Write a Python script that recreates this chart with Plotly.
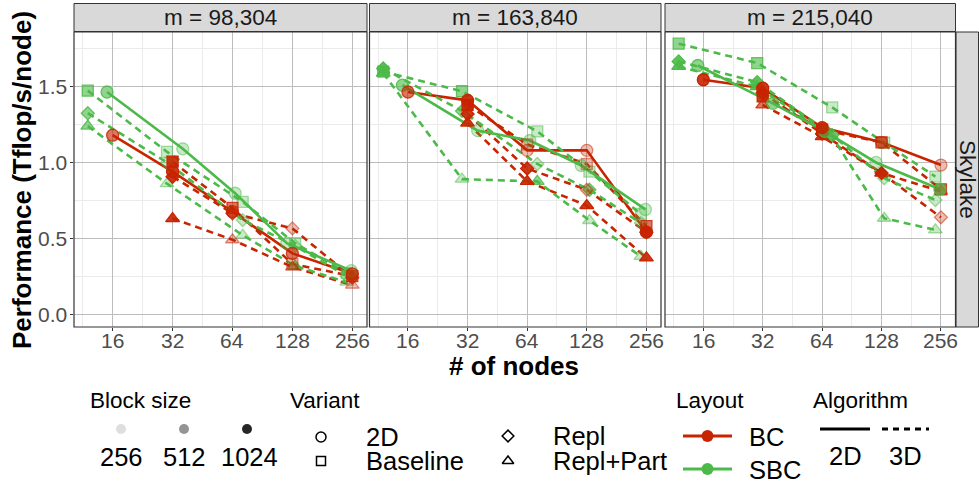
import math
import plotly.graph_objects as go

W, H = 979, 487

# ---------------- data ----------------
FACETS = ["m = 98,304", "m = 163,840", "m = 215,040"]
ROW_STRIP = "Skylake"
NODE_TICKS = [16, 32, 64, 128, 256]
NODE_TICK_LABELS = ["16", "32", "64", "128", "256"]
Y_TICKS = [0.0, 0.5, 1.0, 1.5]
Y_TICK_LABELS = ["0.0", "0.5", "1.0", "1.5"]

VARIANTS = ["2D", "Baseline", "Repl", "Repl+Part"]
LAYOUTS = ["BC", "SBC"]
BLOCK_SIZES = [256, 512, 1024]
BLOCK_LABELS = ["256", "512", "1024"]
ALGORITHMS = ["2D", "3D"]

# actual node counts used by each layout / algorithm
NODES_BC = [16, 32, 64, 128, 256]
NODES_SBC_2D = [15, 36, 66, 120, 253]
NODES_SBC_3D = [12, 30, 72, 132, 240]

# ---- m = 98,304 ----
P1_BC_2D = [1.18, 0.94, 0.675, 0.40, 0.265]
P1_BC_2D_BS = [512, 1024, 512, 512, 512]
P1_BC_BASE = [None, 1.005, 0.70, 0.33, 0.25]
P1_BC_BASE_BS = [None, 1024, 512, 256, 512]
P1_BC_REPL = [None, 0.906, 0.665, 0.565, 0.24]
P1_BC_REPL_BS = [None, 1024, 512, 256, 512]
P1_BC_RP = [None, 0.63, 0.49, 0.31, 0.19]
P1_BC_RP_BS = [None, 1024, 256, 256, 256]
P1_SBC_2D = [1.465, 1.09, 0.797, 0.467, 0.286]
P1_SBC_2D_BS = [512, 256, 256, 256, 256]
P1_SBC_BASE = [1.474, 1.07, 0.74, 0.467, 0.27]
P1_SBC_BASE_BS = [512, 256, 256, 256, 256]
P1_SBC_REPL = [1.325, 1.0, 0.62, 0.45, 0.25]
P1_SBC_REPL_BS = [512, 256, 256, 256, 256]
P1_SBC_RP = [1.24, 0.86, 0.52, 0.317, 0.21]
P1_SBC_RP_BS = [512, 256, 256, 512, 256]

# ---- m = 163,840 ----
P2_BC_2D = [1.465, 1.41, 1.08, 1.08, 0.54]
P2_BC_2D_BS = [512, 1024, 256, 256, 1024]
P2_BC_BASE = [None, 1.38, 1.12, 0.99, 0.58]
P2_BC_BASE_BS = [None, 1024, 256, 256, 512]
P2_BC_REPL = [None, 1.32, 0.96, 0.82, 0.54]
P2_BC_REPL_BS = [None, 1024, 1024, 256, 1024]
P2_BC_RP = [None, 1.26, 0.875, 0.716, 0.37]
P2_BC_RP_BS = [None, 1024, 1024, 1024, 1024]
P2_SBC_2D = [1.51, 1.21, 1.145, 0.98, 0.69]
P2_SBC_2D_BS = [512, 256, 256, 256, 256]
P2_SBC_BASE = [1.60, 1.47, 1.205, 0.94, 0.66]
P2_SBC_BASE_BS = [512, 512, 256, 256, 256]
P2_SBC_REPL = [1.62, 1.34, 0.99, 0.82, 0.60]
P2_SBC_REPL_BS = [1024, 512, 256, 512, 256]
P2_SBC_RP = [1.59, 0.89, 0.875, 0.617, 0.38]
P2_SBC_RP_BS = [1024, 256, 512, 256, 256]

# ---- m = 215,040 ----
P3_BC_2D = [1.546, 1.49, 1.23, 1.133, 0.983]
P3_BC_2D_BS = [1024, 1024, 1024, 256, 256]
P3_BC_BASE = [None, 1.436, 1.216, 1.133, 0.823]
P3_BC_BASE_BS = [None, 1024, 1024, 512, 512]
P3_BC_REPL = [None, 1.46, 1.19, 0.93, 0.638]
P3_BC_REPL_BS = [None, 1024, 1024, 1024, 256]
P3_BC_RP = [None, 1.38, 1.17, 0.93, 0.81]
P3_BC_RP_BS = [None, 512, 1024, 1024, 256]
P3_SBC_2D = [1.64, 1.39, 1.205, 1.0, 0.823]
P3_SBC_2D_BS = [512, 512, 512, 256, 512]
P3_SBC_BASE = [1.784, 1.656, 1.363, 1.13, 0.907]
P3_SBC_BASE_BS = [512, 512, 256, 256, 256]
P3_SBC_REPL = [1.667, 1.53, 1.18, 0.896, 0.752]
P3_SBC_REPL_BS = [1024, 1024, 512, 256, 256]
P3_SBC_RP = [1.634, 1.50, 1.17, 0.632, 0.555]
P3_SBC_RP_BS = [1024, 1024, 512, 256, 256]

PANELS = [
    {
        ("BC", "2D"): (P1_BC_2D, P1_BC_2D_BS), ("BC", "Baseline"): (P1_BC_BASE, P1_BC_BASE_BS),
        ("BC", "Repl"): (P1_BC_REPL, P1_BC_REPL_BS), ("BC", "Repl+Part"): (P1_BC_RP, P1_BC_RP_BS),
        ("SBC", "2D"): (P1_SBC_2D, P1_SBC_2D_BS), ("SBC", "Baseline"): (P1_SBC_BASE, P1_SBC_BASE_BS),
        ("SBC", "Repl"): (P1_SBC_REPL, P1_SBC_REPL_BS), ("SBC", "Repl+Part"): (P1_SBC_RP, P1_SBC_RP_BS),
    },
    {
        ("BC", "2D"): (P2_BC_2D, P2_BC_2D_BS), ("BC", "Baseline"): (P2_BC_BASE, P2_BC_BASE_BS),
        ("BC", "Repl"): (P2_BC_REPL, P2_BC_REPL_BS), ("BC", "Repl+Part"): (P2_BC_RP, P2_BC_RP_BS),
        ("SBC", "2D"): (P2_SBC_2D, P2_SBC_2D_BS), ("SBC", "Baseline"): (P2_SBC_BASE, P2_SBC_BASE_BS),
        ("SBC", "Repl"): (P2_SBC_REPL, P2_SBC_REPL_BS), ("SBC", "Repl+Part"): (P2_SBC_RP, P2_SBC_RP_BS),
    },
    {
        ("BC", "2D"): (P3_BC_2D, P3_BC_2D_BS), ("BC", "Baseline"): (P3_BC_BASE, P3_BC_BASE_BS),
        ("BC", "Repl"): (P3_BC_REPL, P3_BC_REPL_BS), ("BC", "Repl+Part"): (P3_BC_RP, P3_BC_RP_BS),
        ("SBC", "2D"): (P3_SBC_2D, P3_SBC_2D_BS), ("SBC", "Baseline"): (P3_SBC_BASE, P3_SBC_BASE_BS),
        ("SBC", "Repl"): (P3_SBC_REPL, P3_SBC_REPL_BS), ("SBC", "Repl+Part"): (P3_SBC_RP, P3_SBC_RP_BS),
    },
]

# ---------------- styles ----------------
FONT = "Liberation Sans, Arial, sans-serif"
LAYOUT_RGB = {"BC": (200, 36, 0), "SBC": (76, 186, 72)}
ALPHA = {256: 0.3, 512: 0.62, 1024: 0.9}
SYMBOL = {"2D": "circle", "Baseline": "square", "Repl": "diamond", "Repl+Part": "triangle-up"}
SIZE = {"2D": 12, "Baseline": 11, "Repl": 10, "Repl+Part": 12}
DASH = "7px,5px"


def rgba(rgb, a):
    return "rgba(%d,%d,%d,%.3f)" % (rgb[0], rgb[1], rgb[2], a)


def node_list(layout, variant):
    if layout == "BC":
        return NODES_BC
    return NODES_SBC_2D if variant == "2D" else NODES_SBC_3D


def px(x):
    return x / W


def py(y):
    return 1 - y / H


PANEL_X = [(74, 367), (369.5, 661), (665, 955.5)]
PANEL_Y = (32, 327)
XR = [3.355 * math.log10(2), 8.245 * math.log10(2)]
YR = [-0.0858, 1.861]

fig = go.Figure()

ax_names = [("x", "y"), ("x2", "y2"), ("x3", "y3")]

# lines first
for p, panel in enumerate(PANELS):
    xa, ya = ax_names[p]
    for layout in LAYOUTS:
        for variant in VARIANTS:
            vals, _ = panel[(layout, variant)]
            nodes = node_list(layout, variant)
            xs = [n for n, v in zip(nodes, vals) if v is not None]
            ys = [v for v in vals if v is not None]
            fig.add_trace(go.Scatter(
                x=xs, y=ys, mode="lines", xaxis=xa, yaxis=ya,
                line=dict(color=rgba(LAYOUT_RGB[layout], 1), width=2.6,
                          dash="solid" if variant == "2D" else DASH),
                hoverinfo="skip", showlegend=False))

# points on top
for p, panel in enumerate(PANELS):
    xa, ya = ax_names[p]
    for variant in ["Repl+Part", "Repl", "Baseline", "2D"]:
        for layout in ["SBC", "BC"]:
            vals, bss = panel[(layout, variant)]
            nodes = node_list(layout, variant)
            pts = [(n, v, b) for n, v, b in zip(nodes, vals, bss) if v is not None]
            rgb = LAYOUT_RGB[layout]
            fig.add_trace(go.Scatter(
                x=[q[0] for q in pts], y=[q[1] for q in pts], mode="markers",
                xaxis=xa, yaxis=ya,
                marker=dict(symbol=SYMBOL[variant], size=SIZE[variant],
                            color=[rgba(rgb, ALPHA[q[2]]) for q in pts],
                            line=dict(color=[rgba(rgb, min(1, ALPHA[q[2]] + 0.2)) for q in pts],
                                      width=1.3)),
                hoverinfo="skip", showlegend=False))

# ---------------- axes ----------------
minor_x = [16 / math.sqrt(2) * 2 ** k for k in range(5)]
layout_axes = {}
annotations = []
TICK_FONT = dict(family=FONT, size=21, color="#4d4d4d")
for p in range(3):
    sx = "" if p == 0 else str(p + 1)
    x0, x1 = PANEL_X[p]
    layout_axes["xaxis" + sx] = dict(
        type="log", range=XR, domain=[px(x0), px(x1)], anchor="y" + sx,
        tickvals=NODE_TICKS, showticklabels=False,
        showgrid=True, gridcolor="#bdbdbd", gridwidth=1,
        minor=dict(tickvals=minor_x, showgrid=True, gridcolor="#ebebeb", gridwidth=1, ticks=""),
        ticks="outside", ticklen=3, tickcolor="#333333", tickwidth=1,
        zeroline=False, showline=False, fixedrange=True)
    layout_axes["yaxis" + sx] = dict(
        range=YR, domain=[py(PANEL_Y[1]), py(PANEL_Y[0])], anchor="x" + sx,
        tickvals=Y_TICKS, showticklabels=False,
        showgrid=True, gridcolor="#bdbdbd", gridwidth=1,
        minor=dict(tickvals=[0.25, 0.75, 1.25, 1.75], showgrid=True, gridcolor="#ebebeb",
                   gridwidth=1, ticks=""),
        ticks="outside" if p == 0 else "", ticklen=3, tickcolor="#333333", tickwidth=1,
        zeroline=False, showline=False, fixedrange=True)
    # x tick labels placed through the axis' own (log) coordinates
    for tv, tl in zip(NODE_TICKS, NODE_TICK_LABELS):
        annotations.append(dict(text=tl, xref="x" + sx, yref="paper", x=math.log10(tv),
                                y=py(340.5), showarrow=False, xanchor="center", yanchor="middle",
                                font=TICK_FONT))

# y tick labels via the first panel's y axis
for tv, tl in zip(Y_TICKS, Y_TICK_LABELS):
    annotations.append(dict(text=tl, xref="paper", yref="y", x=px(69), y=tv, showarrow=False,
                            xanchor="right", yanchor="middle", font=TICK_FONT))

# overlay axis in pixel units for the legend
layout_axes["xaxis4"] = dict(domain=[0, 1], range=[0, W], visible=False, anchor="y4", fixedrange=True)
layout_axes["yaxis4"] = dict(domain=[0, 1], range=[H, 0], visible=False, anchor="x4", fixedrange=True)

shapes = []
for p in range(3):
    sx = "" if p == 0 else str(p + 1)
    x0, x1 = PANEL_X[p]
    shapes.append(dict(type="rect", xref="x" + sx + " domain", yref="y" + sx + " domain",
                       x0=0, x1=1, y0=0, y1=1, line=dict(color="#333333", width=1.2),
                       fillcolor="rgba(0,0,0,0)", layer="above"))
    shapes.append(dict(type="rect", xref="paper", yref="paper", x0=px(x0), x1=px(x1),
                       y0=py(31.5), y1=py(3.5), line=dict(color="#333333", width=1),
                       fillcolor="#d9d9d9", layer="below"))
    annotations.append(dict(text=FACETS[p], xref="paper", yref="paper",
                            x=px((x0 + x1) / 2), y=py(18), showarrow=False,
                            xanchor="center", yanchor="middle",
                            font=dict(family=FONT, size=22.5, color="#1a1a1a")))

shapes.append(dict(type="rect", xref="paper", yref="paper", x0=px(956), x1=px(978.5),
                   y0=py(PANEL_Y[1]), y1=py(PANEL_Y[0]), line=dict(color="#333333", width=1),
                   fillcolor="#d9d9d9", layer="below"))
annotations.append(dict(text=ROW_STRIP, xref="paper", yref="paper", x=px(967.5),
                        y=py((PANEL_Y[0] + PANEL_Y[1]) / 2), showarrow=False, textangle=90,
                        xanchor="center", yanchor="middle",
                        font=dict(family=FONT, size=22.5, color="#1a1a1a")))

# axis titles
annotations.append(dict(text="Performance (Tflop/s/node)", xref="paper", yref="paper",
                        x=px(22), y=py(180), showarrow=False, textangle=-90,
                        xanchor="center", yanchor="middle",
                        font=dict(family=FONT, size=26, color="black", weight="bold")))
annotations.append(dict(text="# of nodes", xref="paper", yref="paper",
                        x=px(514), y=py(366), showarrow=False,
                        xanchor="center", yanchor="middle",
                        font=dict(family=FONT, size=26, color="black", weight="bold")))

# ---------------- legend ----------------
def label(text, x, y, size=25.5, anchor="left"):
    annotations.append(dict(text=text, xref="paper", yref="paper", x=px(x), y=py(y),
                            showarrow=False, xanchor=anchor, yanchor="middle",
                            font=dict(family=FONT, size=size, color="black")))

label("Block size", 88, 400, size=22.5)
label("Variant", 288, 400, size=22.5)
label("Layout", 674, 400, size=22.5)
label("Algorithm", 811, 400, size=22.5)

LEG_BS_X = [121, 184, 247]
LEG_BS_COLOR = {256: "rgba(0,0,0,0.13)", 512: "rgba(0,0,0,0.42)", 1024: "rgba(0,0,0,0.85)"}
fig.add_trace(go.Scatter(x=LEG_BS_X, y=[429] * 3, mode="markers", xaxis="x4", yaxis="y4",
                         marker=dict(symbol="circle", size=10,
                                     color=[LEG_BS_COLOR[b] for b in BLOCK_SIZES],
                                     line=dict(width=0)),
                         hoverinfo="skip", showlegend=False))
for bx, bl in zip([121, 184, 250], BLOCK_LABELS):
    label(bl, bx, 457, anchor="center")

VAR_POS = {"2D": (321, 437), "Baseline": (321, 461), "Repl": (508, 436), "Repl+Part": (508, 461)}
VAR_SIZE = {"2D": 10, "Baseline": 9, "Repl": 9, "Repl+Part": 10}
for v in VARIANTS:
    vx, vy = VAR_POS[v]
    fig.add_trace(go.Scatter(x=[vx], y=[vy], mode="markers", xaxis="x4", yaxis="y4",
                             marker=dict(symbol=SYMBOL[v] + "-open", size=VAR_SIZE[v],
                                         color="black", line=dict(width=1.5, color="black")),
                             hoverinfo="skip", showlegend=False))
    label(v, vx + 43, vy)

for lay, ly in zip(LAYOUTS, [436, 469]):
    col = rgba(LAYOUT_RGB[lay], 1)
    fig.add_trace(go.Scatter(x=[683, 707.5, 732], y=[ly] * 3, mode="lines", xaxis="x4", yaxis="y4",
                             line=dict(color=col, width=3), hoverinfo="skip", showlegend=False))
    fig.add_trace(go.Scatter(x=[707.5], y=[ly], mode="markers", xaxis="x4", yaxis="y4",
                             marker=dict(symbol="circle", size=12, color=col, line=dict(width=0)),
                             hoverinfo="skip", showlegend=False))
    label(lay, 747, ly + 1)

for alg, (ax0, ax1), dash in zip(ALGORITHMS, [(820, 870), (882, 929)], ["solid", "6px,5px"]):
    fig.add_trace(go.Scatter(x=[ax0, ax1], y=[429, 429], mode="lines", xaxis="x4", yaxis="y4",
                             line=dict(color="black", width=3, dash=dash),
                             hoverinfo="skip", showlegend=False))
    label(alg, (ax0 + ax1) / 2, 456, anchor="center")

fig.update_layout(
    width=W, height=H, margin=dict(l=0, r=0, t=0, b=0),
    paper_bgcolor="white", plot_bgcolor="rgba(0,0,0,0)",
    showlegend=False, shapes=shapes, annotations=annotations,
    font=dict(family=FONT),
    **layout_axes)

fig.write_html("out.html", config={"displayModeBar": False},
               post_script="document.body.style.margin='0';document.body.style.padding='0';")
